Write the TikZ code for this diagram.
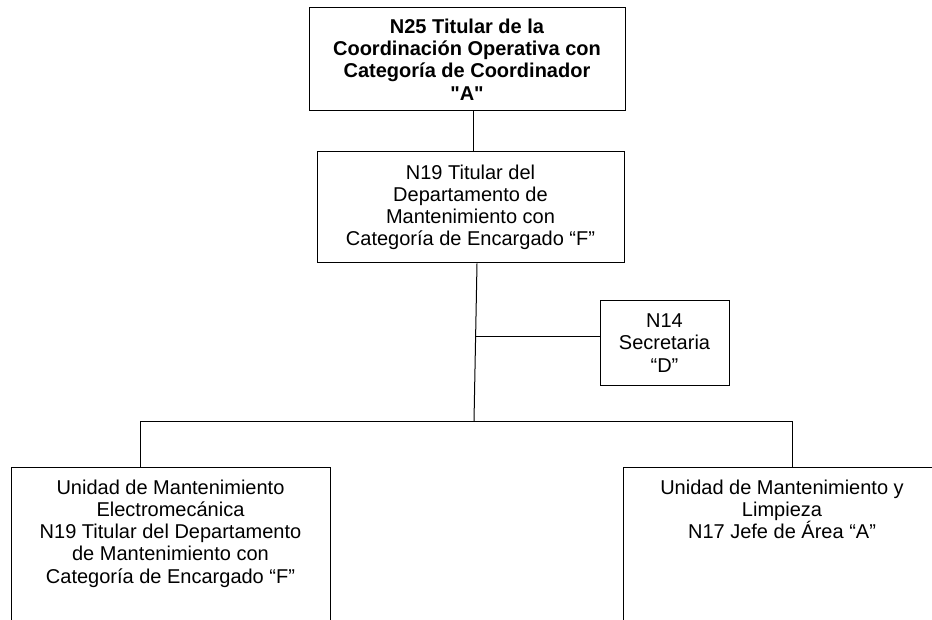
\documentclass[tikz,border=0pt]{standalone}
\usepackage{fontspec}
\setmainfont{Liberation Sans}
\newfontfamily\rawquote{Liberation Sans}

\begin{document}
\begin{tikzpicture}[x=1pt,y=-1pt]
	
	% Define the box styles
	\tikzset{
		post box/.style={
			draw=black, line width=1pt, rectangle, align=center,
			font=\fontsize{20}{22.2}\selectfont, inner sep=0pt
		},
		unit box/.style={
			post box, anchor=north, inner ysep=12.4pt, text depth=200pt
		},
		link/.style={draw=black, line width=1pt}
	}
	
	% Clip to the page
	\clip (0,0) rectangle (932,620);
	
	% Top box
	\node[post box, minimum width=316pt, minimum height=103pt, font=\fontsize{20}{22.2}\selectfont\bfseries] (coord) at (467,59.5) {N25 Titular de la\\Coordinación Operativa con\\Categoría de Coordinador\\{\rawquote\bfseries "A"}};
	
	% Department box
	\node[post box, minimum width=307pt, minimum height=111pt] (dept) at (470.5,207.5) {N19 Titular del\\Departamento de\\Mantenimiento con\\Categoría de Encargado “F”};
	
	% Secretary box
	\node[post box, minimum width=129pt, minimum height=84pt] (sec) at (664.5,343) {N14\\Secretaria\\“D”};
	
	% Bottom boxes (cut by the page)
	\node[unit box, minimum width=319pt] (elec) at (170.5,467) {Unidad de Mantenimiento\\Electromecánica\\N19 Titular del Departamento\\de Mantenimiento con\\Categoría de Encargado “F”};
	\node[unit box, minimum width=318pt] (limp) at (782,467) {Unidad de Mantenimiento y\\Limpieza\\N17 Jefe de Área “A”};
	
	% Bus points
	\coordinate (tap) at (475,337);
	\coordinate (bus) at (474,421);
	\coordinate (busL) at (140,421);
	\coordinate (busR) at (792,421);
	
	% Connectors
	\draw[link] ([xshift=6pt]coord.south) -- ([xshift=6pt]coord.south |- dept.north);
	\draw[link] ([xshift=6.5pt]dept.south) -- (bus);
	\draw[link] (tap) -- (tap -| sec.west);
	\draw[link] (elec.north -| busL) -- (busL) -- (busR) -- (busR |- limp.north);
	
\end{tikzpicture}
\end{document}
